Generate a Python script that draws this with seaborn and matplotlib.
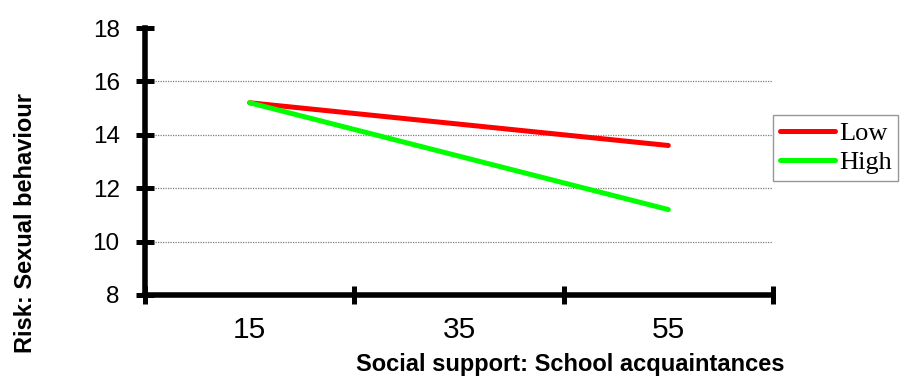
import matplotlib
matplotlib.use("Agg")
import matplotlib.pyplot as plt
import numpy as np
import pandas as pd
import seaborn as sns

# values
support = ["15", "35", "55"]
low = [15.2, 14.4, 13.6]
high = [15.2, 13.2, 11.2]
y_ticks = [8, 10, 12, 14, 16, 18]

sns.set_style("white")
plt.rcParams["font.family"] = ["Liberation Sans", "DejaVu Sans"]
plt.rcParams.update(
    {
        "text.color": "black",
        "axes.labelcolor": "black",
        "xtick.color": "black",
        "ytick.color": "black",
    }
)

df = pd.DataFrame(
    {
        "support": support * 2,
        "risk": low + high,
        "group": ["Low"] * len(low) + ["High"] * len(high),
    }
)

fig = plt.figure(figsize=(9.08, 3.8), dpi=100)
ax = fig.add_axes([0.1597, 0.2237, 0.6916, 0.7026])

sns.lineplot(
    data=df,
    x="support",
    y="risk",
    hue="group",
    palette={"Low": "#ff0000", "High": "#00ff00"},
    linewidth=3.6,
    solid_capstyle="round",
    ax=ax,
    legend=True,
)

ax.set_ylim(8, 18)
ax.set_xlim(-0.5, len(support) - 0.5)
ax.set_yticks(y_ticks)

# dotted gridlines, none on the top edge
for yv in y_ticks[1:-1]:
    ax.axhline(yv, color="#7f7f7f", linestyle=(0, (1, 1)), linewidth=0.9, zorder=0)

for side in ["top", "right"]:
    ax.spines[side].set_visible(False)
for side in ["left", "bottom"]:
    ax.spines[side].set_linewidth(4)
    ax.spines[side].set_color("black")
    ax.spines[side].set_capstyle("projecting")

# category labels in the middle, tick marks at category borders
ax.set_xticks(np.arange(len(support)))
ax.set_xticklabels(support)
ax.set_xticks(np.arange(len(support) + 1) - 0.5, minor=True)
ax.tick_params(bottom=True, left=True, which="both")
ax.tick_params(axis="x", which="major", length=0, pad=15, labelsize=21.5)
ax.tick_params(axis="x", which="minor", length=13, width=3.6, direction="inout", color="black")
ax.tick_params(axis="y", which="major", length=12.5, width=3.6, direction="inout",
               color="black", labelsize=17.5, pad=12)

ax.set_xlabel("Social support: School acquaintances", fontsize=17, fontweight="bold")
ax.xaxis.set_label_coords(0.677, -0.218)
ax.set_ylabel("Risk: Sexual behaviour", fontsize=17, fontweight="bold")
ax.yaxis.set_label_coords(-0.172, 0.27)

handles, labels = ax.get_legend_handles_labels()
leg = ax.legend(
    handles,
    labels,
    loc="upper left",
    bbox_to_anchor=(1.0, 0.675),
    borderaxespad=0,
    frameon=True,
    fancybox=False,
    edgecolor="#7f7f7f",
    prop={"family": "Liberation Serif", "size": 19},
    handlelength=2.1,
    handletextpad=0.15,
    labelspacing=0.22,
    borderpad=0.25,
)
leg.get_frame().set_linewidth(1.0)
for line in leg.get_lines():
    line.set_linewidth(3.6)
    line.set_solid_capstyle("round")

fig.savefig("out.png", dpi=100)
